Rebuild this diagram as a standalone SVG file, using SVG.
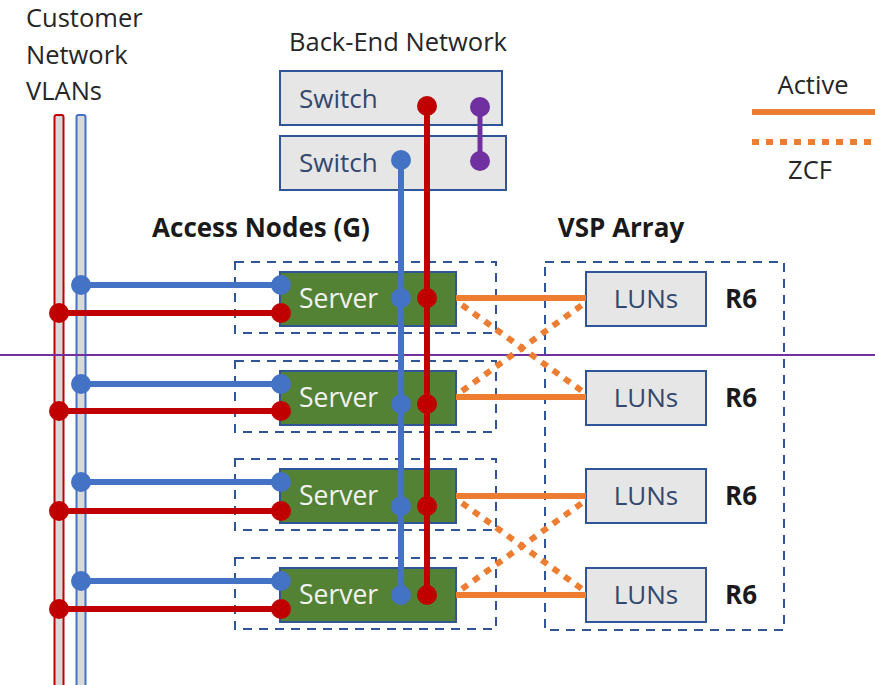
<svg xmlns="http://www.w3.org/2000/svg" width="875" height="685" viewBox="0 0 875 685">
<style>
text{font-family:"Open Sans","Noto Sans",sans-serif;}
.lbl{font-size:25.5px;fill:#262626;}
.bold{font-size:26px;font-weight:bold;fill:#1a1a1a;}
.box{fill:#e6e6e6;stroke:#2f5597;stroke-width:2;}
.boxt{font-size:26px;fill:#33486e;}
.srv{fill:#548235;stroke:#2f5597;stroke-width:2;}
.srvt{font-size:26.5px;fill:#f2f2f2;}
.dash{fill:none;stroke:#2f5597;stroke-width:2;stroke-dasharray:9 7;}
.red{stroke:#c00000;stroke-width:6;fill:none;}
.blue{stroke:#4472c4;stroke-width:6;fill:none;}
.rd{fill:#c00000;}
.bd{fill:#4472c4;}
.act{stroke:#ed7d31;stroke-width:6;fill:none;}
.zcf{stroke:#ed7d31;stroke-width:6;fill:none;stroke-dasharray:7 7;}
</style>
<rect width="875" height="685" fill="#ffffff"/>

<g id="customer-vlans">
<text class="lbl" x="26" y="27">Customer</text>
<text class="lbl" x="26" y="64">Network</text>
<text class="lbl" x="26" y="100">VLANs</text>
<rect x="54.5" y="115" width="9" height="575" rx="2" fill="#d9d9d9" stroke="#c00000" stroke-width="2"/>
<rect x="76.5" y="115" width="9" height="575" rx="2" fill="#d9d9d9" stroke="#4472c4" stroke-width="2"/>
</g>

<g id="back-end-network">
<text class="lbl" x="398" y="51" text-anchor="middle" font-size="26.5">Back-End Network</text>
<g id="switch1"><rect class="box" x="280" y="71" width="222" height="54"/><text class="boxt" x="299" y="108">Switch</text></g>
<g id="switch2"><rect class="box" x="280" y="136" width="226" height="54"/><text class="boxt" x="299" y="172">Switch</text></g>
</g>

<g id="legend">
<text class="lbl" x="813" y="94" text-anchor="middle">Active</text>
<line class="act" x1="752" y1="112" x2="875" y2="112"/>
<line class="zcf" x1="752" y1="142" x2="875" y2="142"/>
<text class="lbl" x="810" y="179" text-anchor="middle">ZCF</text>
</g>

<text class="bold" x="261" y="237" text-anchor="middle">Access Nodes (G)</text>
<text class="bold" x="621" y="237" text-anchor="middle" font-size="27.5">VSP Array</text>

<g id="vsp-array">
<rect class="dash" x="545" y="262" width="239" height="368"/>
</g>

<g id="node1"><rect class="dash" x="235" y="262" width="261" height="71"/><rect class="srv" x="280" y="272" width="176" height="54"/><text class="srvt" x="299" y="308">Server</text></g>
<g id="node2"><rect class="dash" x="235" y="361" width="261" height="71"/><rect class="srv" x="280" y="371" width="176" height="54"/><text class="srvt" x="299" y="407">Server</text></g>
<g id="node3"><rect class="dash" x="235" y="459" width="261" height="71"/><rect class="srv" x="280" y="469" width="176" height="54"/><text class="srvt" x="299" y="505">Server</text></g>
<g id="node4"><rect class="dash" x="235" y="558" width="261" height="71"/><rect class="srv" x="280" y="568" width="176" height="54"/><text class="srvt" x="299" y="604">Server</text></g>

<g id="lun1"><rect class="box" x="586" y="272" width="120" height="54"/><text class="boxt" x="646" y="308" text-anchor="middle" font-size="25">LUNs</text><text class="bold" x="725" y="308">R6</text></g>
<g id="lun2"><rect class="box" x="586" y="371" width="120" height="54"/><text class="boxt" x="646" y="407" text-anchor="middle" font-size="25">LUNs</text><text class="bold" x="725" y="407">R6</text></g>
<g id="lun3"><rect class="box" x="586" y="469" width="120" height="54"/><text class="boxt" x="646" y="505" text-anchor="middle" font-size="25">LUNs</text><text class="bold" x="725" y="505">R6</text></g>
<g id="lun4"><rect class="box" x="586" y="568" width="120" height="54"/><text class="boxt" x="646" y="604" text-anchor="middle" font-size="25">LUNs</text><text class="bold" x="725" y="604">R6</text></g>

<line x1="0" y1="355" x2="875" y2="355" stroke="#7030a0" stroke-width="2"/>

<g id="connectors">
<line class="act" x1="456" y1="298" x2="586" y2="298"/>
<line class="act" x1="456" y1="397" x2="586" y2="397"/>
<line class="act" x1="456" y1="496" x2="586" y2="496"/>
<line class="act" x1="456" y1="595" x2="586" y2="595"/>
<line class="zcf" x1="462" y1="305" x2="582" y2="391"/>
<line class="zcf" x1="462" y1="391" x2="582" y2="305"/>
<line class="zcf" x1="462" y1="503" x2="582" y2="589"/>
<line class="zcf" x1="462" y1="589" x2="582" y2="503"/>

<line class="blue" x1="81" y1="285" x2="281" y2="285"/>
<line class="red" x1="59" y1="313" x2="281" y2="313"/>
<line class="blue" x1="81" y1="384" x2="281" y2="384"/>
<line class="red" x1="59" y1="411" x2="281" y2="411"/>
<line class="blue" x1="81" y1="482" x2="281" y2="482"/>
<line class="red" x1="59" y1="511" x2="281" y2="511"/>
<line class="blue" x1="81" y1="581" x2="281" y2="581"/>
<line class="red" x1="59" y1="609" x2="281" y2="609"/>

<circle class="bd" cx="81" cy="285" r="10"/><circle class="bd" cx="281" cy="285" r="10"/>
<circle class="rd" cx="59" cy="313" r="10"/><circle class="rd" cx="281" cy="313" r="10"/>
<circle class="bd" cx="81" cy="384" r="10"/><circle class="bd" cx="281" cy="384" r="10"/>
<circle class="rd" cx="59" cy="411" r="10"/><circle class="rd" cx="281" cy="411" r="10"/>
<circle class="bd" cx="81" cy="482" r="10"/><circle class="bd" cx="281" cy="482" r="10"/>
<circle class="rd" cx="59" cy="511" r="10"/><circle class="rd" cx="281" cy="511" r="10"/>
<circle class="bd" cx="81" cy="581" r="10"/><circle class="bd" cx="281" cy="581" r="10"/>
<circle class="rd" cx="59" cy="609" r="10"/><circle class="rd" cx="281" cy="609" r="10"/>

<line class="blue" x1="401" y1="160" x2="401" y2="595"/>
<line class="red" x1="427" y1="106" x2="427" y2="595"/>
<circle class="bd" cx="401" cy="160" r="10"/>
<circle class="rd" cx="427" cy="106" r="10"/>
<circle class="bd" cx="401" cy="298" r="10"/><circle class="rd" cx="427" cy="298" r="10"/>
<circle class="bd" cx="401" cy="404" r="10"/><circle class="rd" cx="427" cy="404" r="10"/>
<circle class="bd" cx="401" cy="506" r="10"/><circle class="rd" cx="427" cy="506" r="10"/>
<circle class="bd" cx="401" cy="595" r="10"/><circle class="rd" cx="427" cy="595" r="10"/>

<line x1="480" y1="107" x2="480" y2="161" stroke="#7030a0" stroke-width="5"/>
<circle cx="480" cy="107" r="10" fill="#7030a0"/>
<circle cx="480" cy="161" r="10" fill="#7030a0"/>
</g>
</svg>
